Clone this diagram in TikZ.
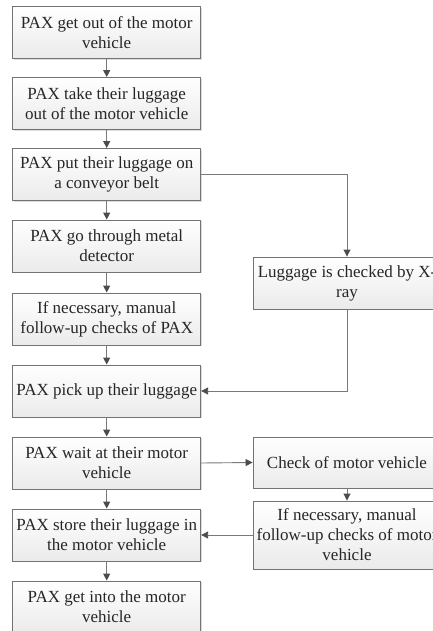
\documentclass[tikz,border=0pt]{standalone}
\usepackage{fontspec}
\setmainfont{Liberation Serif}
\usetikzlibrary{arrows.meta,shadows}
\begin{document}
\begin{tikzpicture}[x=1pt,y=-1pt,
  stepbox/.style={draw=gray!90!black, line width=0.9pt, top color=white, bottom color=gray!16,
    minimum width=188pt, minimum height=52pt, inner sep=0pt, align=center,
    font=\fontsize{17}{20}\selectfont, text=black!85,
    drop shadow={shadow xshift=1.2pt, shadow yshift=-1.2pt, fill=gray!45, opacity=0.6}},
  conn/.style={draw=gray!95!black, line width=0.9pt, -{Triangle[length=7pt,width=7pt,color=black!70,fill=black!70]}},
  line/.style={draw=gray!95!black, line width=0.9pt}]
\clip (0,0) rectangle (433,631);
\useasboundingbox (0,0) rectangle (433,631);
\node[stepbox] (b1) at (106.7,32.5) {PAX get out of the motor\\vehicle};
\node[stepbox] (b2) at (106.7,103.5) {PAX take their luggage\\out of the motor vehicle};
\node[stepbox] (b3) at (106.7,174.5) {PAX put their luggage on\\a conveyor belt};
\node[stepbox] (b4) at (106.7,246) {PAX go through metal\\detector};
\node[stepbox] (b5) at (106.7,319) {If necessary, manual\\follow-up checks of PAX};
\node[stepbox] (b6) at (106.7,391) {PAX pick up their luggage};
\node[stepbox] (b7) at (106.7,463) {PAX wait at their motor\\vehicle};
\node[stepbox] (b8) at (106.7,535) {PAX store their luggage in\\the motor vehicle};
\node[stepbox] (b9) at (106.7,607) {PAX get into the motor\\vehicle};
\node[stepbox] (xr) at (347,283) {Luggage is checked by X-\\ray};
\node[stepbox, minimum height=51pt] (cm) at (347,462.5) {Check of motor vehicle};
\node[stepbox, minimum height=68pt] (mm) at (347,535) {If necessary, manual\\follow-up checks of motor\\vehicle};
\draw[conn] (b1) -- (b2);
\draw[conn] (b2) -- (b3);
\draw[conn] (b3) -- (b4);
\draw[conn] (b4) -- (b5);
\draw[conn] (b5) -- (b6);
\draw[conn] (b6) -- (b7);
\draw[conn] (b7) -- (b8);
\draw[conn] (b8) -- (b9);
\draw[conn] (b3.east) -| (xr.north);
\draw[conn] (xr.south) |- (b6.east);
\draw[conn] (b7.east) -- (cm.west);
\draw[conn] (cm) -- (mm);
\draw[conn] (mm.west) -- (b8.east);
\end{tikzpicture}
\end{document}
